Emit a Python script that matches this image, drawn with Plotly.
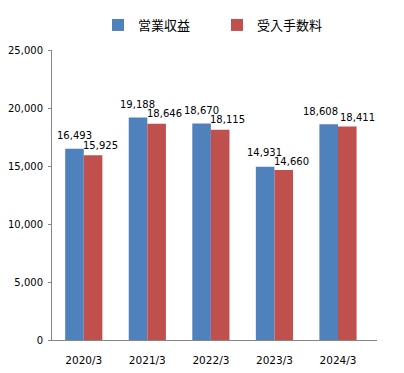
import plotly.graph_objects as go

categories = ["2020/3", "2021/3", "2022/3", "2023/3", "2024/3"]
revenue = [16493, 19188, 18670, 14931, 18608]
fees = [15925, 18646, 18115, 14660, 18411]
series_names = ["営業収益", "受入手数料"]
y_ticks = [0, 5000, 10000, 15000, 20000, 25000]
y_tick_labels = ["0", "5,000", "10,000", "15,000", "20,000", "25,000"]

# label placement style (pixel nudges so labels don't collide, like the original)
rev_label_dx = [0, 0, 0, 0, -8]
fee_label_dx = [7, 8, 7, 8, 10]
rev_label_dy = [13, 13, 13, 14.5, 13]
fee_label_dy = [10, 10, 10, 8.5, 9]

num_font = "DejaVu Sans, Verdana, sans-serif"
colors = ["#4F81BD", "#C0504D"]

# page body has an 8px default margin; compensate so the chart sits like the reference
W, H = 396, 365

fig = go.Figure()
fig.add_trace(go.Bar(
    x=categories, y=revenue, name=series_names[0],
    marker=dict(color=colors[0], line=dict(width=0)),
))
fig.add_trace(go.Bar(
    x=categories, y=fees, name=series_names[1],
    marker=dict(color=colors[1], line=dict(width=0)),
))

bar_w = 19  # approx pixel width of each bar
annotations = []
for i, c in enumerate(categories):
    annotations.append(dict(
        x=c, y=revenue[i], xref="x", yref="y", text=f"{revenue[i]:,}",
        showarrow=False, xanchor="center", yanchor="middle",
        xshift=-bar_w / 2 + rev_label_dx[i], yshift=rev_label_dy[i],
        font=dict(family=num_font, size=10, color="#000000"),
    ))
    annotations.append(dict(
        x=c, y=fees[i], xref="x", yref="y", text=f"{fees[i]:,}",
        showarrow=False, xanchor="center", yanchor="middle",
        xshift=bar_w / 2 + fee_label_dx[i], yshift=fee_label_dy[i],
        font=dict(family=num_font, size=10, color="#000000"),
    ))

fig.update_layout(
    width=W, height=H,
    margin=dict(l=44, r=27, t=42, b=33, autoexpand=False),
    paper_bgcolor="white", plot_bgcolor="white",
    barmode="group", bargap=0.415, bargroupgap=0,
    showlegend=True,
    legend=dict(
        orientation="h", x=90 / W, y=1 - 17 / H, xref="container", yref="container",
        xanchor="left", yanchor="middle",
        font=dict(family="Noto Sans CJK JP", size=13, color="#000000"),
        itemsizing="constant", traceorder="normal",
        entrywidth=74, entrywidthmode="pixels", bgcolor="rgba(0,0,0,0)",
    ),
    annotations=annotations,
    font=dict(family=num_font, size=10, color="#000000"),
)
fig.update_yaxes(
    range=[0, 25000], tickvals=y_ticks, ticktext=y_tick_labels,
    showgrid=False, zeroline=False, automargin=False,
    showline=True, linecolor="#868686", linewidth=1,
    ticks="outside", ticklen=3, tickcolor="#868686",
    ticklabelstandoff=3,
    tickfont=dict(family=num_font, size=10, color="#000000"),
)
fig.update_xaxes(
    showgrid=False, showline=True, linecolor="#868686", linewidth=1,
    automargin=False, ticks="", ticklabelstandoff=10,
    tickfont=dict(family=num_font, size=10.5, color="#000000"),
)

fig.write_html("out.html")
